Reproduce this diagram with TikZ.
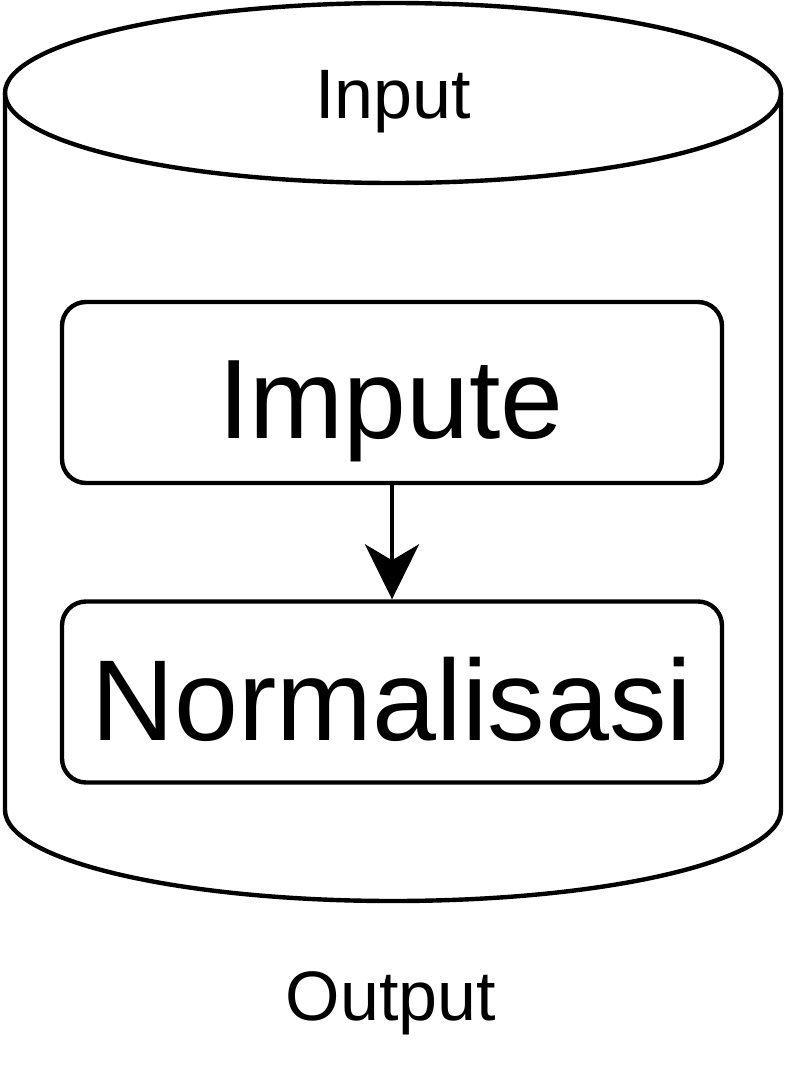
\documentclass[tikz,border=0pt]{standalone}
\usepackage{fontspec}
\setmainfont{Liberation Sans}
\usetikzlibrary{arrows.meta}
\begin{document}
\begin{tikzpicture}[x=1pt,y=-1pt,line width=4.4pt,
  procbox/.style={draw,rounded corners=24pt,minimum width=660pt,minimum height=181pt,inner sep=0pt},
  lbl/.style={anchor=base,inner sep=0pt},
  arr/.style={-{Stealth[length=55pt,width=54pt,inset=16pt]}}]
\useasboundingbox (0,0) rectangle (786,1086);
% cylinder body
\draw (5,93) -- (5,810) arc[start angle=180,end angle=360,x radius=388,y radius=-91] -- (781,93);
\draw (393,93) ellipse[x radius=388,y radius=90];
\node[lbl,font=\fontsize{70}{80}\selectfont] (in) at (393,119) {Input};
\node[procbox] (imp) at (392,392.5) {};
\node[lbl,font=\fontsize{113}{130}\selectfont] (impt) at (391,438) {Impute};
\node[procbox] (norm) at (392,692) {};
\node[lbl,font=\fontsize{115}{130}\selectfont] (normt) at (392,740) {Normalisasi};
\draw[arr] (imp) -- (norm);
\node[lbl,font=\fontsize{70}{80}\selectfont] (out) at (391,1020) {Output};
\end{tikzpicture}
\end{document}
